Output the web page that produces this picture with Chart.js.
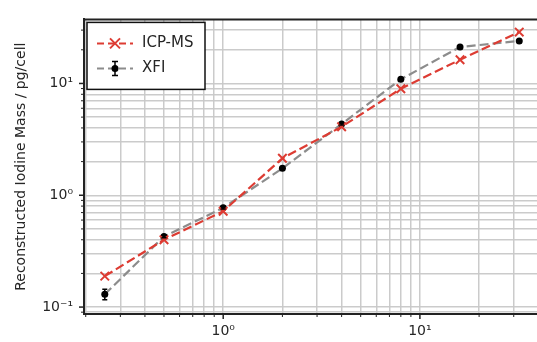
<!DOCTYPE html>
<html>
<head>
<meta charset="utf-8">
<script src="https://cdn.jsdelivr.net/npm/chart.js@4"></script>
<style>
    html, body { margin: 0; padding: 0; background: #fff; overflow: hidden; }
    #wrap { position: absolute; left: 0; top: 0; width: 548px; height: 342px; }
</style>
</head>
<body>
<div id="wrap"><canvas id="massChart" width="548" height="342"></canvas></div>
<script>
// dilution steps and measured iodine mass per cell
const dilution = [0.25, 0.5, 1, 2, 4, 8, 16, 32];
const icpMs = [0.189, 0.40, 0.72, 2.14, 4.1, 8.96, 16.3, 28.8];
const xfi = [0.130, 0.428, 0.772, 1.74, 4.34, 10.9, 21.2, 24.0];
const xfiErr = [0.014, 0.012, 0.02, 0.04, 0.08, 0.2, 0.4, 0.4];

// decades shown on each axis
const xDecades = [0.1, 1, 10];
const yDecades = [0.01, 0.1, 1, 10];
const majorLabels = { '0.1': '10\u207B\u00B9', '1': '10\u2070', '10': '10\u00B9' };

const FONT = 'DejaVu Sans';
const TEXT = '#262626';
const RED = '#dd3c33';
const GREY = '#8c8c8c';
const GRID = 'rgba(200,200,200,0.95)';

function logTicks(decades, min, max) {
    const out = [];
    decades.forEach(d => {
        for (let m = 1; m <= 9; m++) {
            const v = +(d * m).toPrecision(3);
            if (v >= min && v <= max) out.push({ value: v, major: m === 1 });
        }
    });
    return out;
}

function majorOnly(value) {
    const key = String(+value.toPrecision(3));
    return majorLabels[key] || '';
}

// outward tick marks, top/right spines and the error bars
const axesDecor = {
    id: 'axesDecor',
    afterDatasetsDraw(chart) {
        const { ctx, chartArea: a, scales } = chart;
        ctx.save();
        ctx.strokeStyle = '#222';
        scales.x.ticks.forEach(t => {
            const px = scales.x.getPixelForValue(t.value);
            ctx.lineWidth = t.major ? 1.5 : 1;
            ctx.beginPath();
            ctx.moveTo(px, a.bottom);
            ctx.lineTo(px, a.bottom + (t.major ? 5 : 3));
            ctx.stroke();
        });
        scales.y.ticks.forEach(t => {
            const py = scales.y.getPixelForValue(t.value);
            ctx.lineWidth = t.major ? 1.5 : 1;
            ctx.beginPath();
            ctx.moveTo(a.left, py);
            ctx.lineTo(a.left - (t.major ? 5 : 3), py);
            ctx.stroke();
        });
        ctx.lineWidth = 2;
        ctx.beginPath();
        ctx.moveTo(a.left, a.top);
        ctx.lineTo(a.right, a.top);
        ctx.lineTo(a.right, a.bottom);
        ctx.stroke();

        // XFI uncertainty
        ctx.strokeStyle = '#000';
        ctx.lineWidth = 1.5;
        dilution.forEach((x, i) => {
            const px = scales.x.getPixelForValue(x);
            const hi = scales.y.getPixelForValue(xfi[i] + xfiErr[i]);
            const lo = scales.y.getPixelForValue(xfi[i] - xfiErr[i]);
            ctx.beginPath();
            ctx.moveTo(px, hi); ctx.lineTo(px, lo);
            ctx.moveTo(px - 2.5, hi); ctx.lineTo(px + 2.5, hi);
            ctx.moveTo(px - 2.5, lo); ctx.lineTo(px + 2.5, lo);
            ctx.stroke();
        });
        ctx.restore();
    },
    afterDraw(chart) {
        const { ctx, chartArea: a } = chart;
        const bx = a.left + 3, by = a.top + 3, bw = 118, bh = 67;
        ctx.save();
        ctx.fillStyle = '#fff';
        ctx.fillRect(bx, by, bw, bh);
        ctx.strokeStyle = '#111';
        ctx.lineWidth = 1.5;
        ctx.strokeRect(bx, by, bw, bh);

        const rows = [
            { label: 'ICP-MS', color: RED, y: by + 21 },
            { label: 'XFI', color: GREY, y: by + 46 }
        ];
        rows.forEach((r, i) => {
            const x0 = bx + 10, x1 = bx + 46, xm = (x0 + x1) / 2;
            ctx.strokeStyle = r.color;
            ctx.lineWidth = 2;
            ctx.setLineDash([7, 4]);
            ctx.beginPath();
            ctx.moveTo(x0, r.y); ctx.lineTo(x1, r.y);
            ctx.stroke();
            ctx.setLineDash([]);
            if (i === 0) {
                ctx.beginPath();
                ctx.moveTo(xm - 5, r.y - 5); ctx.lineTo(xm + 5, r.y + 5);
                ctx.moveTo(xm - 5, r.y + 5); ctx.lineTo(xm + 5, r.y - 5);
                ctx.stroke();
            } else {
                ctx.strokeStyle = '#000';
                ctx.lineWidth = 1.5;
                ctx.beginPath();
                ctx.moveTo(xm, r.y - 7); ctx.lineTo(xm, r.y + 7);
                ctx.moveTo(xm - 3, r.y - 7); ctx.lineTo(xm + 3, r.y - 7);
                ctx.moveTo(xm - 3, r.y + 7); ctx.lineTo(xm + 3, r.y + 7);
                ctx.stroke();
                ctx.fillStyle = '#000';
                ctx.beginPath();
                ctx.arc(xm, r.y, 3.5, 0, Math.PI * 2);
                ctx.fill();
            }
            ctx.fillStyle = TEXT;
            ctx.font = '15px "' + FONT + '"';
            ctx.textBaseline = 'middle';
            ctx.fillText(r.label, bx + 55, r.y);
        });
        ctx.restore();
    }
};

const X_MIN = 0.196, X_MAX = 40.8;
const Y_MIN = 0.0867, Y_MAX = 37.4;

new Chart(document.getElementById('massChart').getContext('2d'), {
    type: 'scatter',
    data: {
        datasets: [{
            label: 'ICP-MS',
            data: dilution.map((x, i) => ({ x, y: icpMs[i] })),
            showLine: true,
            tension: 0,
            borderColor: RED,
            borderWidth: 2.2,
            borderDash: [9, 4],
            pointStyle: 'crossRot',
            pointRadius: 6,
            pointBorderWidth: 2,
            pointBorderColor: RED,
            pointBackgroundColor: RED
        }, {
            label: 'XFI',
            data: dilution.map((x, i) => ({ x, y: xfi[i] })),
            showLine: true,
            tension: 0,
            borderColor: GREY,
            borderWidth: 2.2,
            borderDash: [9, 4],
            pointStyle: 'circle',
            pointRadius: 3.5,
            pointBorderWidth: 0,
            pointBorderColor: '#000',
            pointBackgroundColor: '#000'
        }]
    },
    options: {
        responsive: false,
        animation: false,
        devicePixelRatio: 1,
        layout: { padding: { top: 16, right: 7, left: 0, bottom: 0 } },
        plugins: { legend: { display: false }, tooltip: { enabled: false } },
        scales: {
            x: {
                type: 'logarithmic',
                min: X_MIN,
                max: X_MAX,
                afterBuildTicks: s => { s.ticks = logTicks(xDecades, X_MIN, X_MAX); },
                afterFit: s => { s.height = 28; },
                grid: { color: GRID, lineWidth: 1.5, drawTicks: false },
                border: { display: true, color: '#222', width: 2 },
                ticks: {
                    autoSkip: false,
                    maxRotation: 0,
                    padding: 9,
                    color: TEXT,
                    font: { family: FONT, size: 14 },
                    callback: majorOnly
                }
            },
            y: {
                type: 'logarithmic',
                min: Y_MIN,
                max: Y_MAX,
                afterBuildTicks: s => { s.ticks = logTicks(yDecades, Y_MIN, Y_MAX); },
                afterFit: s => { s.width = 84; },
                grid: { color: GRID, lineWidth: 1.5, drawTicks: false },
                border: { display: true, color: '#222', width: 2 },
                title: {
                    display: true,
                    text: 'Reconstructed Iodine Mass / pg/cell',
                    color: TEXT,
                    font: { family: FONT, size: 14 },
                    padding: { top: 13, bottom: 0 }
                },
                ticks: {
                    autoSkip: false,
                    padding: 11,
                    color: TEXT,
                    font: { family: FONT, size: 14 },
                    callback: majorOnly
                }
            }
        }
    },
    plugins: [axesDecor]
});
</script>
</body>
</html>
